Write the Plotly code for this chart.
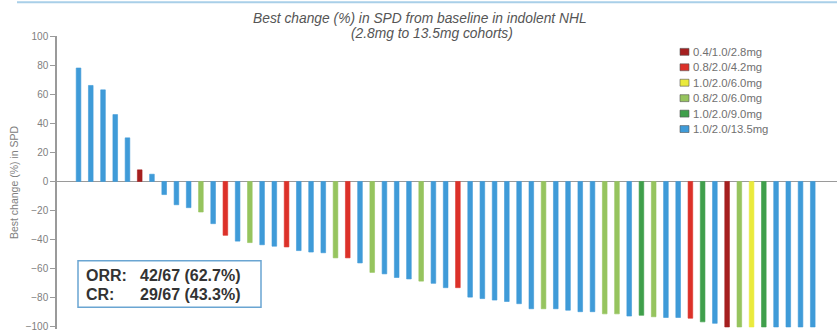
import plotly.graph_objects as go

# ---- data ----
cohort_names = ["0.4/1.0/2.8mg", "0.8/2.0/4.2mg", "1.0/2.0/6.0mg",
                "0.8/2.0/6.0mg", "1.0/2.0/9.0mg", "1.0/2.0/13.5mg"]
cohort_colors = ["#a51f1f", "#dc3129", "#eaea3c", "#96c45e", "#3f9f4b", "#3f9bd8"]

# cohort code per patient (index into cohort_names), in waterfall order
patient_cohort = [5, 5, 5, 5, 5, 0, 5, 5, 5, 5,
                  3, 5, 1, 5, 3, 5, 5, 1, 5, 5,
                  5, 3, 1, 5, 3, 5, 5, 5, 3, 5,
                  5, 1, 5, 5, 5, 5, 5, 5, 3, 5,
                  5, 5, 5, 3, 3, 5, 4, 3, 5, 5,
                  1, 4, 5, 0, 3, 2, 4, 5, 5, 5,
                  5]
best_change = [78, 66, 63, 46, 30, 8, 5, -9, -16, -18,
               -21, -29, -37, -41, -42, -43.5, -44.5, -45, -47.5, -48.5,
               -49, -52.5, -52.5, -56, -62.5, -63.5, -66, -67, -68.5, -70,
               -73, -73, -79.5, -80.5, -81.5, -82.5, -84, -87.5, -87.5, -87.5,
               -88.5, -89.5, -89.5, -91, -91, -92.5, -92, -93, -93.5, -93.5,
               -94, -96.5, -97.5, -100, -100, -100, -100, -100, -100, -100,
               -100]
y_ticks = [100, 80, 60, 40, 20, 0, -20, -40, -60, -80, -100]

OFF = 0  # body margin removed via post_script below
W, H = 837, 332
ML, MR, MT, MB = 57, 0, 36, 0
PW, PH = W - ML - MR, H - MT - MB


def px(xp):
    """screen x pixel -> paper x"""
    return (xp - OFF - ML) / PW


def py(yp):
    """screen y pixel -> paper y"""
    return 1 - (yp - OFF - MT) / PH


fig = go.Figure()
for ci, (name, col) in enumerate(zip(cohort_names, cohort_colors)):
    xs = [i for i, c in enumerate(patient_cohort) if c == ci]
    ys = [best_change[i] for i in xs]
    fig.add_trace(go.Bar(
        x=xs, y=ys, name=name, width=0.38,
        marker=dict(color=col, line=dict(color=col, width=0.6)),
        showlegend=False,
    ))

fig.update_layout(
    width=W, height=H,
    margin=dict(l=ML, r=MR, t=MT, b=MB),
    paper_bgcolor="white", plot_bgcolor="white",
    barmode="overlay",
    font=dict(family="Liberation Sans, Arial, sans-serif", color="#666"),
    showlegend=False,
)
fig.update_xaxes(range=[-1.76, 61.98], visible=False, showgrid=False, zeroline=False)
fig.update_yaxes(
    range=[-101.4, 100], tickvals=y_ticks,
    showgrid=False, showline=True, linecolor="#9a9a9a", linewidth=1.5,
    ticks="outside", ticklen=5, tickcolor="#9a9a9a", tickwidth=1,
    tickfont=dict(size=10, color="#808080"), ticklabeloverflow="allow",
    zeroline=True, zerolinecolor="#9a9a9a", zerolinewidth=1.2,
    title=dict(text="Best change (%) in SPD", font=dict(size=10.5, color="#808080"), standoff=5),
)

# title (two lines)
fig.add_annotation(
    xref="paper", yref="paper", x=px(420), y=py(18), xanchor="center", yanchor="middle",
    text="<i>Best change (%) in SPD from baseline in indolent NHL</i>",
    showarrow=False, font=dict(size=13.8, color="#555"),
)
fig.add_annotation(
    xref="paper", yref="paper", x=px(432), y=py(33), xanchor="center", yanchor="middle",
    text="<i>(2.8mg to 13.5mg cohorts)</i>",
    showarrow=False, font=dict(size=13.8, color="#555"),
)

# manual legend
leg_y0, leg_dy = 52, 15.6
for k, (name, col) in enumerate(zip(cohort_names, cohort_colors)):
    yc = leg_y0 + k * leg_dy
    fig.add_shape(type="rect", xref="paper", yref="paper",
                  x0=px(680), x1=px(689), y0=py(yc + 3.5), y1=py(yc - 3.5),
                  line=dict(color="#555", width=0.6), fillcolor=col)
    fig.add_annotation(xref="paper", yref="paper", x=px(691), y=py(yc), xanchor="left", yanchor="middle",
                       text=name, showarrow=False, font=dict(size=11.3, color="#707070"))

# top border line of the panel
fig.add_shape(type="line", xref="paper", yref="paper",
              x0=px(17), x1=px(840), y0=py(2), y1=py(2),
              line=dict(color="#a9cfe8", width=2))

# response box
fig.add_shape(type="rect", xref="paper", yref="paper",
              x0=px(78), x1=px(261), y0=py(310), y1=py(263),
              line=dict(color="#6aa5d2", width=1.5), fillcolor="white", layer="above")
for txt, xx, yy in [("<b>ORR:</b>", 84, 278), ("<b>CR:</b>", 84, 297),
                    ("<b>42/67 (62.7%)</b>", 138, 278), ("<b>29/67 (43.3%)</b>", 138, 297)]:
    fig.add_annotation(xref="paper", yref="paper", x=px(xx), y=py(yy), xanchor="left", yanchor="middle",
                       text=txt, showarrow=False, font=dict(size=16, color="#333"))

fig.write_html("out.html", config={"displayModeBar": False},
               post_script="document.body.style.margin='0';document.body.style.overflow='hidden';")
